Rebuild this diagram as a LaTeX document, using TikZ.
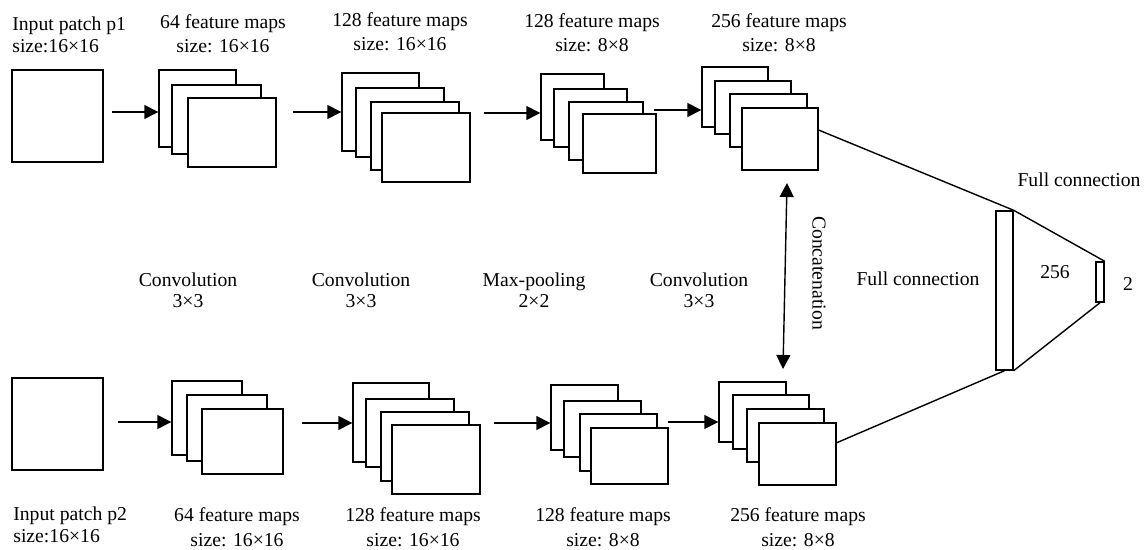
\documentclass[tikz,border=0pt]{standalone}
\usepackage{fontspec}
\setmainfont{Liberation Serif}
\usetikzlibrary{arrows.meta,fit}

\tikzset{
  fmap/.style={draw, fill=white, line width=0.8pt, inner sep=0pt},
  link/.style={line width=0.8pt},
  flow/.style={link, -{Triangle[length=2.8mm,width=2.8mm]}},
  biflow/.style={link, {Triangle[length=2.8mm,width=2.8mm]}-{Triangle[length=2.8mm,width=2.8mm]}},
  lbl/.style={font=\fontsize{11.2}{14}\selectfont, inner sep=0pt, align=center, anchor=base},
  oplbl/.style={lbl, font=\fontsize{11.2}{12.5}\selectfont},
}

\begin{document}
\begin{tikzpicture}[x=0.02cm, y=-0.02cm]
  \useasboundingbox (0,0) rectangle (1146,550);

  % input patches
  \node[fmap, fit={(12,70) (103,162)}] (in1) {};
  \node[fmap, fit={(12,378) (103,470)}] (in2) {};

  % feature maps, drawn back to front
  \foreach \nm/\xa/\ya/\xb/\yb in {
      t1a/159/70/236/147, t1b/172/85/261/154, t1c/188/98/276/167,
      t2a/342/73/419/151, t2b/356/88/444/157, t2c/371/102/459/170, t2d/382/113/470/182,
      t3a/541/74/604/140, t3b/554/89/627/147, t3c/569/102/643/160, t3d/583/114/656/173,
      t4a/702/67/768/127, t4b/715/81/791/134, t4c/730/94/807/147, t4d/742/108/818/170,
      b1a/172/381/242/455, b1b/187/395/267/461, b1c/202/409/283/474,
      b2a/353/383/429/462, b2b/366/399/454/467, b2c/381/412/469/481, b2d/392/425/480/494,
      b3a/551/385/618/450, b3b/564/401/641/457, b3c/580/414/657/471, b3d/591/428/668/484,
      b4a/719/382/786/442, b4b/733/395/809/449, b4c/747/409/824/462, b4d/759/423/836/485}
    \node[fmap, fit={(\xa,\ya) (\xb,\yb)}] (\nm) {};

  % fully connected layers
  \node[fmap, fit={(996,211) (1013,370)}] (fc1) {};
  \node[fmap, fit={(1096,262) (1104,302)}] (fc2) {};

  % arrow starts
  \coordinate (s1) at (112,112);
  \coordinate (s2) at (293,112);
  \coordinate (s3) at (484,113);
  \coordinate (s4) at (654,110);
  \coordinate (r1) at (118,422);
  \coordinate (r2) at (302,423);
  \coordinate (r3) at (494,423);
  \coordinate (r4) at (668,422);
  \coordinate (c1) at (787,183);
  \coordinate (c2) at (783,369);

  % draw connections
  \draw[flow] (s1) -- (s1 -| t1a.west);
  \draw[flow] (s2) -- (s2 -| t2a.west);
  \draw[flow] (s3) -- (s3 -| t3a.west);
  \draw[flow] (s4) -- (s4 -| t4a.west);
  \draw[flow] (r1) -- (r1 -| b1a.west);
  \draw[flow] (r2) -- (r2 -| b2a.west);
  \draw[flow] (r3) -- (r3 -| b3a.west);
  \draw[flow] (r4) -- (r4 -| b4a.west);
  \draw[biflow] (c1) -- (c2);
  \draw[link] (t4d.13) -- (fc1.north east);
  \draw[link] (b4d.16) -- (fc1.south);
  \draw[link] (fc1.north east) -- (fc2.north east);
  \draw[link] (fc1.south east) -- (fc2.south);

  % labels (anchored on the baseline of the last line)
  \node[lbl, anchor=base west, align=left, font=\fontsize{11.2}{13}\selectfont] (lp1) at (12,53) {Input patch p1\\size:16×16};
  \node[lbl] (lt1) at (223,53) {64 feature maps\\size: 16×16};
  \node[lbl] (lt2) at (400,51) {128 feature maps\\size: 16×16};
  \node[lbl] (lt3) at (592,52) {128 feature maps\\size: 8×8};
  \node[lbl] (lt4) at (779,52) {256 feature maps\\size: 8×8};
  \node[oplbl] (op1) at (188,308) {Convolution\\3×3};
  \node[oplbl] (op2) at (361,308) {Convolution\\3×3};
  \node[oplbl] (op3) at (534,308) {Max-pooling\\2×2};
  \node[oplbl] (op4) at (699,308) {Convolution\\3×3};
  \node[lbl, anchor=base west, align=left, font=\fontsize{11.2}{12.5}\selectfont] (lp2) at (13,542) {Input patch p2\\size:16×16};
  \node[lbl] (lb1) at (237,546) {64 feature maps\\size: 16×16};
  \node[lbl] (lb2) at (413,546) {128 feature maps\\size: 16×16};
  \node[lbl] (lb3) at (603,546) {128 feature maps\\size: 8×8};
  \node[lbl] (lb4) at (798,546) {256 feature maps\\size: 8×8};
  \node[lbl, rotate=-90, anchor=center] (lcat) at (819,273) {Concatenation};
  \node[lbl] (lfc1) at (918,286) {Full connection};
  \node[lbl] (lfc2) at (1079,187) {Full connection};
  \node[lbl] (l256) at (1055,279) {256};
  \node[lbl] (l2) at (1128,291) {2};
\end{tikzpicture}
\end{document}
